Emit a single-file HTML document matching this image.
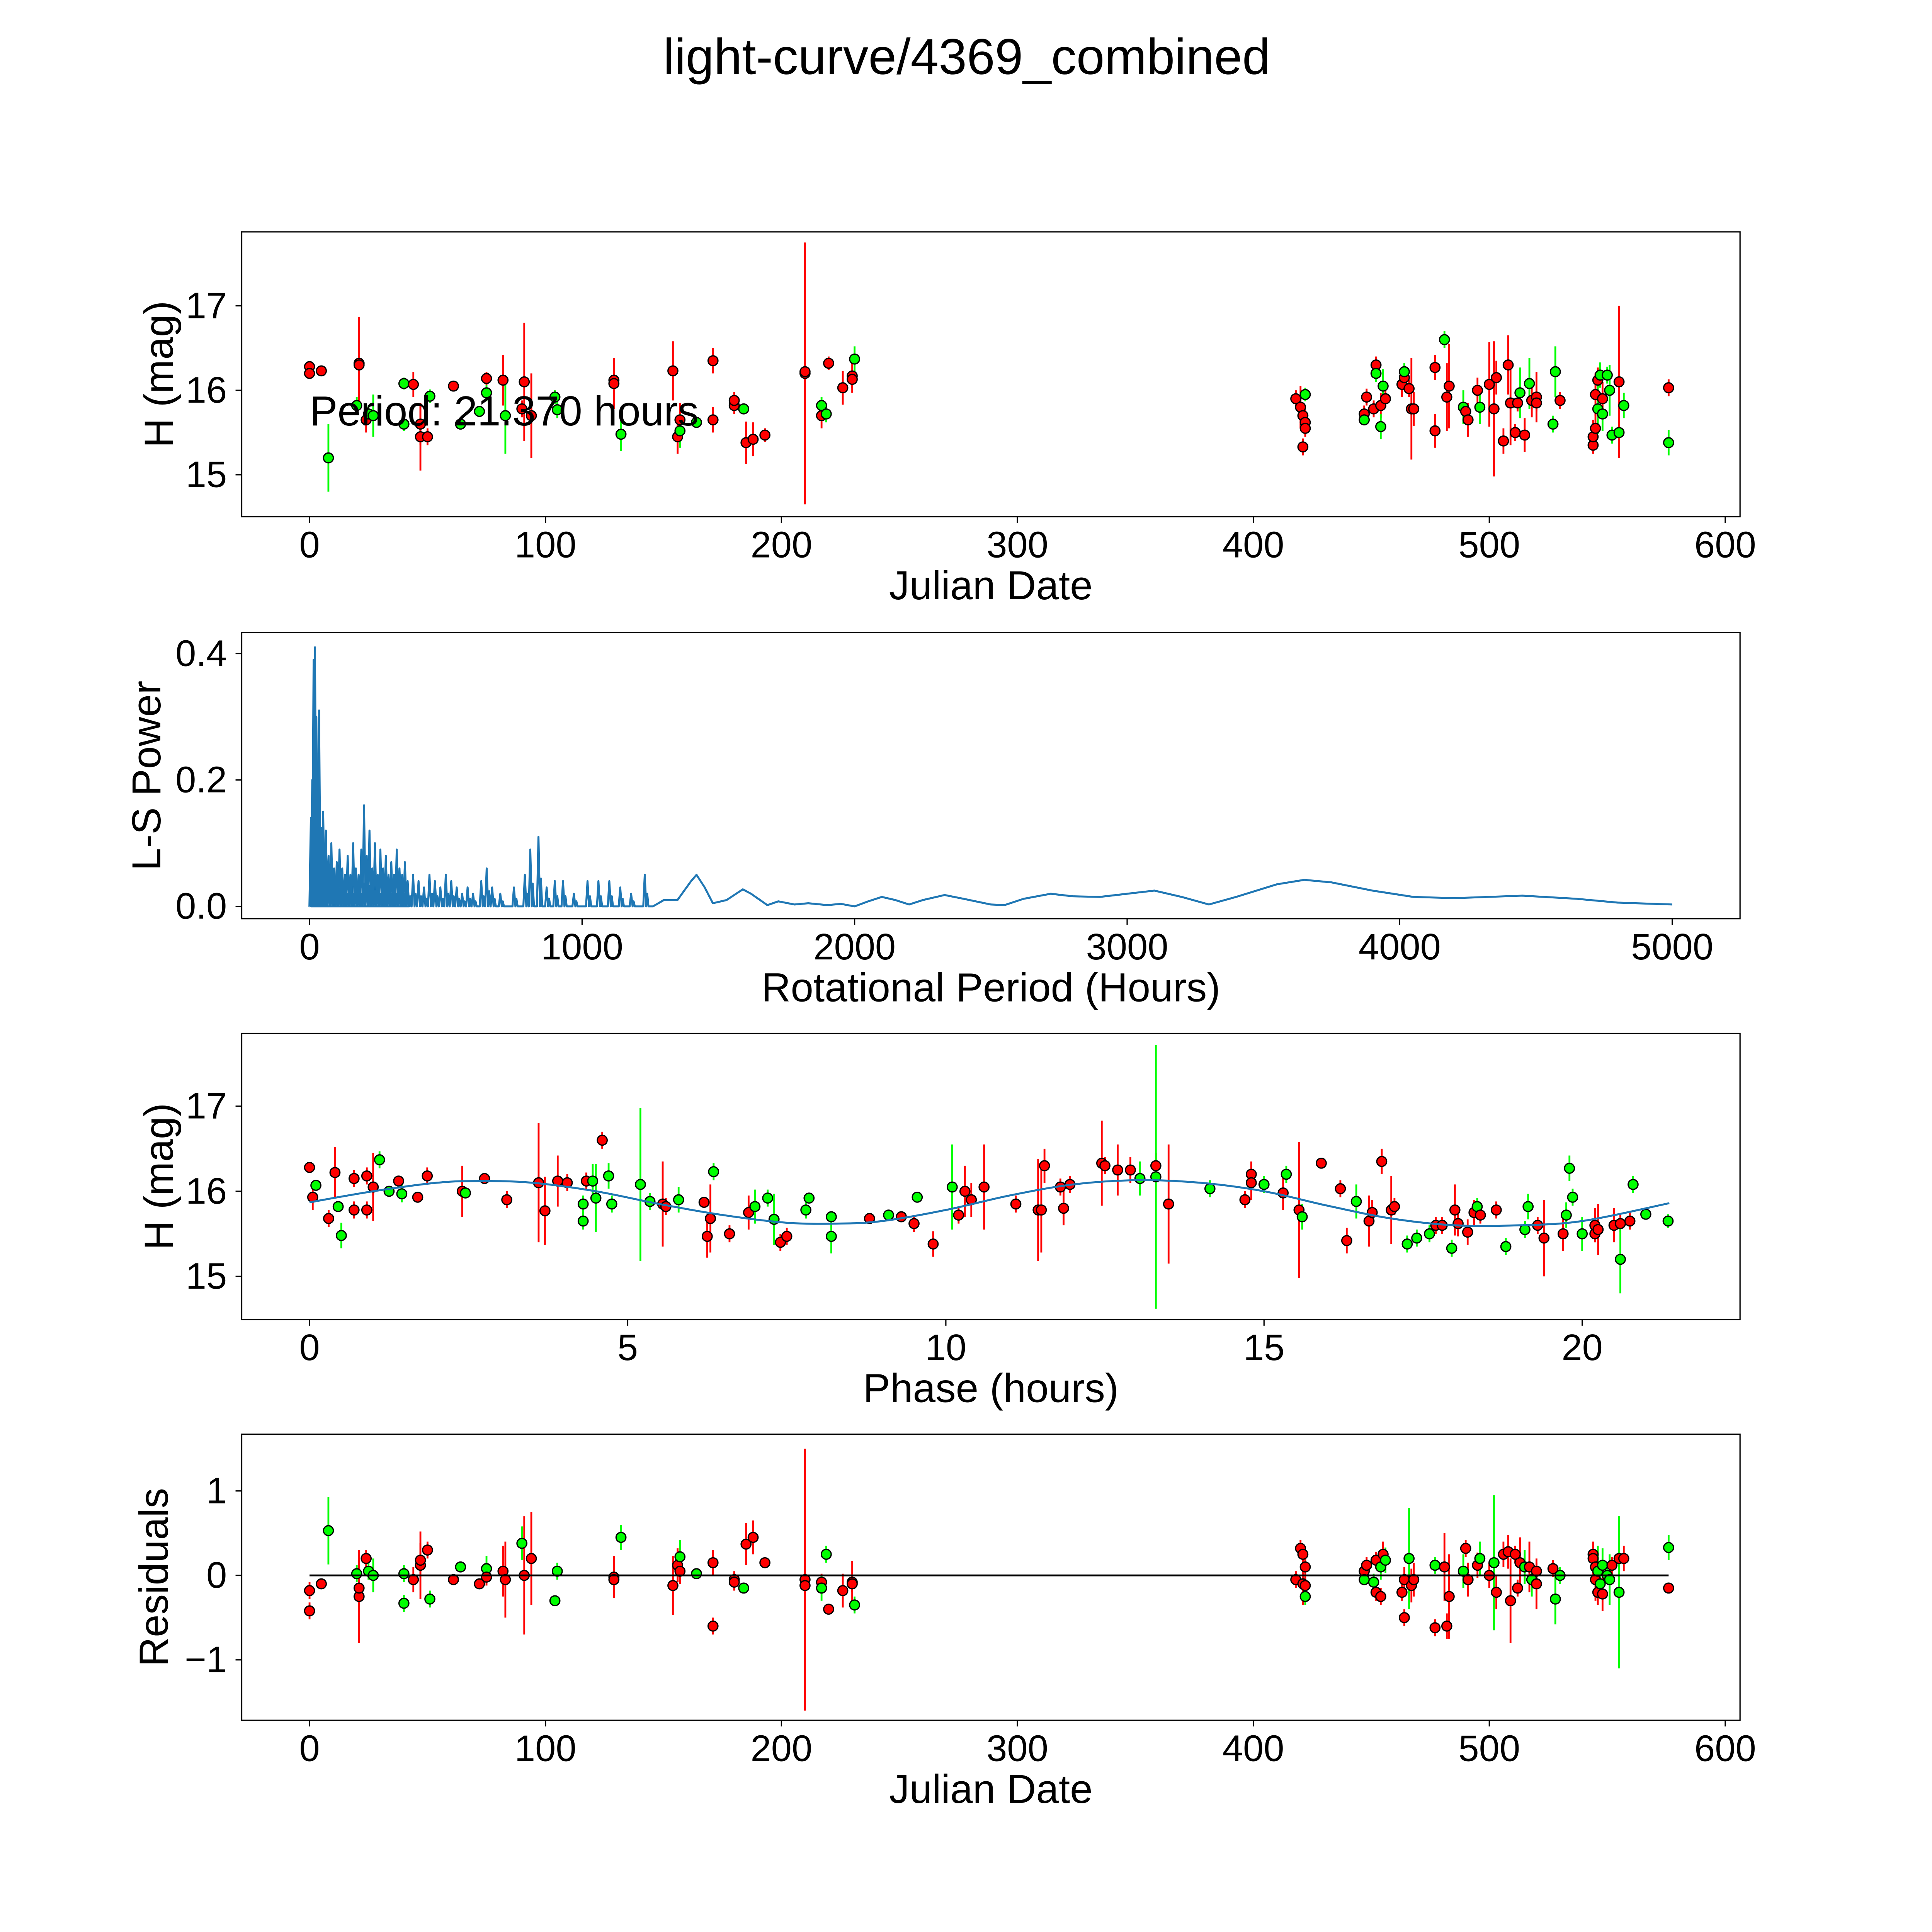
<!DOCTYPE html>
<html><head><meta charset="utf-8"><style>
html,body{margin:0;padding:0;background:#fff;overflow:hidden;width:5400px;height:5400px}
svg{display:block}
text{font-family:"Liberation Sans","DejaVu Sans",sans-serif;fill:#000}
</style></head><body>
<svg id="fig" width="5400" height="5400" viewBox="0 0 1692 1692" xmlns="http://www.w3.org/2000/svg">
<rect x="0" y="0" width="1692" height="1692" fill="#fff"/>
<text x="784" y="60" font-size="41" text-anchor="middle">light-curve/4369_combined</text>
</svg>
<script>
// ---- data ----
const lcDate=[0,0,5,8,20,21,21,24,25,27,40,40,44,47,47,50,51,61,64,72,75,75,82,83,90,91,94,104,105,129,129,132,154,156,157,157,164,171,171,180,180,184,185,188,193,210,210,217,217,219,220,226,230,230,231,418,420,421,421,422,422,422,447,447,448,451,452,452,454,454,455,456,463,464,464,466,467,468,477,477,481,482,483,489,490,491,495,496,500,502,503,506,508,509,511,512,513,515,517,518,520,520,527,528,530,544,544,545,545,546,546,547,548,548,550,551,552,555,555,557,576,576];
const lcMag=[16.28,16.2,16.23,15.2,15.82,16.32,16.3,15.65,15.72,15.7,16.08,15.6,16.07,15.6,15.45,15.45,15.93,16.05,15.6,15.75,15.97,16.14,16.12,15.7,15.78,16.1,15.7,15.92,15.77,16.12,16.08,15.48,16.23,15.45,15.65,15.52,15.62,16.35,15.65,15.82,15.88,15.78,15.38,15.42,15.47,16.2,16.22,15.82,15.7,15.72,16.32,16.03,16.17,16.13,16.37,15.9,15.8,15.7,15.33,15.95,15.62,15.55,15.72,15.65,15.92,15.78,16.3,16.2,15.82,15.57,16.05,15.9,16.07,16.15,16.22,16.02,15.78,15.78,15.52,16.27,16.6,15.92,16.05,15.8,15.75,15.65,16.0,15.8,16.07,15.78,16.15,15.4,16.3,15.85,15.5,15.85,15.97,15.47,16.08,15.88,15.92,15.85,15.6,16.22,15.88,15.35,15.45,15.55,15.95,16.12,15.78,16.18,15.72,15.9,16.18,16.0,15.47,15.5,16.1,15.82,16.03,15.38];
const lcErr=[0.05,0.05,0.05,0.4,0.1,0.55,0.1,0.15,0.1,0.25,0.07,0.08,0.15,0.25,0.4,0.1,0.08,0.05,0.05,0.05,0.1,0.08,0.3,0.45,0.1,0.7,0.5,0.08,0.1,0.07,0.3,0.2,0.35,0.2,0.2,0.2,0.05,0.15,0.15,0.1,0.1,0.05,0.25,0.2,0.08,1.55,0.1,0.1,0.15,0.1,0.08,0.2,0.2,0.1,0.15,0.1,0.25,0.1,0.1,0.08,0.15,0.1,0.1,0.05,0.1,0.1,0.1,0.1,0.15,0.15,0.2,0.1,0.15,0.15,0.1,0.1,0.6,0.2,0.2,0.15,0.1,0.4,0.5,0.2,0.1,0.2,0.15,0.2,0.5,0.8,0.2,0.15,0.35,0.5,0.1,0.1,0.3,0.2,0.3,0.2,0.3,0.1,0.1,0.3,0.1,0.1,0.2,0.2,0.25,0.15,0.3,0.15,0.2,0.2,0.1,0.3,0.1,0.3,0.9,0.15,0.1,0.15];
const lcBand="rrrggrrrggggrrrrgrgggrrgrrrggrrgrrrggrrrrgrrrrrgrgrrrrgrrrrgrrrgrrrgrggrrrgrrrrrgrrgrrrgrrrrrrrrgrgrrrggrrrrrrgggrggggrgrgrgr";
const phTime=[0,0.05,0.1,0.3,0.4,0.45,0.5,0.7,0.7,0.9,0.9,1.0,1.0,1.1,1.25,1.4,1.45,1.7,1.85,2.4,2.45,2.75,3.1,3.6,3.7,3.9,4.05,4.3,4.3,4.35,4.45,4.5,4.6,4.7,4.75,5.2,5.35,5.55,5.6,5.8,6.2,6.25,6.3,6.35,6.6,6.9,7.0,7.2,7.3,7.4,7.5,7.8,7.85,8.2,8.2,8.8,9.1,9.3,9.5,9.55,9.8,10.1,10.2,10.3,10.4,10.6,11.1,11.45,11.5,11.55,11.8,11.85,11.95,12.45,12.5,12.7,12.9,13.05,13.3,13.3,13.5,14.15,14.7,14.8,14.8,15.0,15.3,15.35,15.55,15.6,15.9,16.2,16.3,16.45,16.65,16.7,16.85,17.0,17.05,17.25,17.4,17.6,17.7,17.8,17.95,18.0,18.05,18.2,18.3,18.35,18.4,18.65,18.8,19.1,19.15,19.3,19.4,19.7,19.75,19.8,19.85,20.0,20.2,20.2,20.25,20.5,20.6,20.6,20.75,20.8,21.0,21.35];
const phMag=[16.28,15.93,16.07,15.68,16.22,15.82,15.48,15.78,16.15,15.78,16.18,16.05,16.05,16.37,16.0,16.12,15.97,15.93,16.18,16.0,15.98,16.15,15.9,16.1,15.77,16.12,16.1,15.65,15.85,16.12,16.12,15.92,16.6,16.18,15.85,16.08,15.88,15.85,15.82,15.9,15.87,15.47,15.68,16.23,15.5,15.75,15.82,15.92,15.67,15.4,15.47,15.78,15.92,15.47,15.7,15.68,15.72,15.7,15.62,15.93,15.38,16.05,15.72,16.0,15.9,16.05,15.85,15.78,15.78,16.3,16.05,15.8,16.08,16.33,16.3,16.25,16.25,16.15,16.3,16.17,15.85,16.03,15.9,16.2,16.1,16.08,15.98,16.2,15.78,15.7,16.33,16.03,15.42,15.88,15.65,15.75,16.35,15.78,15.82,15.38,15.45,15.5,15.6,15.6,15.33,15.78,15.62,15.52,15.75,15.82,15.72,15.78,15.35,15.55,15.82,15.6,15.45,15.5,15.72,16.27,15.93,15.5,15.6,15.5,15.55,15.6,15.62,15.2,15.65,16.08,15.73,15.65];
const phErr=[0.05,0.15,0.05,0.1,0.3,0.05,0.15,0.1,0.1,0.1,0.1,0.4,0.1,0.1,0.05,0.05,0.1,0.05,0.1,0.3,0.05,0.05,0.1,0.7,0.4,0.3,0.1,0.1,0.1,0.1,0.2,0.4,0.1,0.15,0.1,0.9,0.1,0.5,0.1,0.15,0.05,0.25,0.4,0.1,0.1,0.2,0.2,0.1,0.3,0.1,0.1,0.1,0.05,0.2,0.05,0.05,0.05,0.05,0.1,0.05,0.15,0.5,0.1,0.3,0.2,0.5,0.1,0.6,0.5,0.2,0.1,0.2,0.1,0.5,0.1,0.3,0.15,0.2,0.15,1.55,0.7,0.1,0.1,0.15,0.2,0.1,0.2,0.1,0.8,0.15,0.05,0.1,0.15,0.2,0.3,0.15,0.15,0.4,0.1,0.1,0.1,0.1,0.1,0.1,0.1,0.3,0.15,0.15,0.15,0.1,0.1,0.1,0.1,0.1,0.15,0.1,0.45,0.2,0.15,0.15,0.1,0.2,0.2,0.1,0.3,0.2,0.1,0.4,0.1,0.1,0.05,0.08];
const phBand="rrgrrggrrrrrrggrgrrrgrrrrrrggrggrggggrrgrrrgrrgggrrggggrgrrgrgrrrrrrrrrrrrrrrgrgrgrrrgrgrgrrrgrrrrrgggrrgrrrrgrrgggrrrggggrrrrrgrgggr";
const fitPhase=[0,1,2,2.7,3.5,4.5,5.5,6.5,7.5,8.3,9,10,11,12,13,14,15,16,17,18,19,20,21.37];
const fitMag=[15.87,16.0,16.1,16.12,16.1,16.0,15.85,15.72,15.63,15.62,15.65,15.78,15.95,16.08,16.13,16.1,16.0,15.83,15.68,15.6,15.6,15.65,15.86];
const resDate=[0,0,5,8,20,21,21,24,25,27,40,40,44,47,47,50,51,61,64,72,75,75,82,83,90,91,94,104,105,129,129,132,154,156,157,157,164,171,171,180,180,184,185,188,193,210,210,217,217,219,220,226,230,230,231,418,420,421,421,422,422,422,447,447,448,451,452,452,454,454,455,456,463,464,464,466,467,468,477,477,481,482,483,489,490,491,495,496,500,502,503,506,508,509,511,512,513,515,517,518,520,520,527,528,530,544,544,545,545,546,546,547,548,548,550,551,552,555,555,557,576,576];
const resVal=[-0.18,-0.42,-0.1,0.53,0.02,-0.25,-0.15,0.2,0.05,0,0.02,-0.33,-0.05,0.12,0.18,0.3,-0.28,-0.05,0.1,-0.1,0.08,-0.02,0.05,-0.05,0.38,0,0.2,-0.3,0.05,-0.02,-0.05,0.45,-0.12,0.12,0.22,0.05,0.02,-0.6,0.15,-0.05,-0.08,-0.15,0.37,0.45,0.15,-0.05,-0.12,-0.08,-0.15,0.25,-0.4,-0.18,-0.08,-0.1,-0.35,-0.05,0.32,0.25,-0.1,-0.25,0.1,-0.12,0.05,-0.05,0.12,-0.08,-0.2,0.18,-0.25,0.1,0.25,0.18,-0.2,-0.05,-0.5,0.2,-0.12,-0.05,-0.62,0.12,0.1,-0.6,-0.25,0.05,0.32,-0.05,0.12,0.2,0,0.15,-0.2,0.25,0.28,-0.3,0.25,-0.15,0.15,0.1,0.1,-0.05,-0.1,0.05,0.08,-0.28,0,0.25,0.2,0.1,-0.05,-0.2,0.05,-0.1,0.12,-0.22,0,-0.05,0.12,0.2,-0.2,0.2,0.33,-0.15];
const resErr=[0.1,0.1,0.05,0.4,0.1,0.55,0.1,0.1,0.1,0.2,0.1,0.1,0.15,0.4,0.2,0.1,0.1,0.05,0.05,0.05,0.15,0.1,0.3,0.45,0.2,0.7,0.55,0.05,0.1,0.25,0.1,0.15,0.35,0.2,0.2,0.15,0.05,0.1,0.15,0.1,0.1,0.05,0.25,0.2,0.05,1.55,0.1,0.1,0.15,0.1,0.05,0.2,0.25,0.1,0.1,0.1,0.1,0.1,0.25,0.1,0.15,0.1,0.1,0.05,0.1,0.1,0.1,0.1,0.1,0.15,0.15,0.15,0.1,0.15,0.1,0.6,0.2,0.2,0.1,0.1,0.4,0.15,0.5,0.2,0.1,0.2,0.15,0.2,0.15,0.8,0.2,0.15,0.2,0.5,0.1,0.1,0.3,0.2,0.3,0.2,0.3,0.1,0.1,0.3,0.1,0.1,0.2,0.2,0.25,0.15,0.3,0.15,0.2,0.2,0.1,0.3,0.1,0.3,0.9,0.15,0.15,0.05];
const resBand="rrrggrrrggggrrrrgrgrgrrrgrrggrrgrrgrgrrrrgrrrrrrggrrrrgrrrrgrrrgrgrrrgrgrrrgrrrgrrrgrrrgrgrrrrrrrgrgrrrggrrrrrgggrggrrgrgrrgrrg";
const lsPeakPeriod=[5,10,15,20,25,30,35,40,45,50,60,70,80,90,100,110,120,130,140,150,160,170,180,190,200,210,220,230,240,250,260,270,280,290,300,310,320,330,340,350,360,380,400,420,440,460,480,500,520,540,560,580,600,630,650,670,700,750,790,810,840,870,900,930,970,1020,1060,1100,1140,1180,1230];
const lsPeakPower=[0.14,0.2,0.39,0.41,0.3,0.12,0.31,0.1,0.09,0.15,0.12,0.08,0.1,0.06,0.07,0.09,0.06,0.05,0.08,0.05,0.1,0.06,0.05,0.09,0.16,0.08,0.12,0.06,0.1,0.05,0.09,0.06,0.08,0.05,0.07,0.05,0.09,0.06,0.05,0.07,0.04,0.05,0.04,0.03,0.05,0.04,0.03,0.05,0.04,0.03,0.02,0.03,0.02,0.04,0.06,0.03,0.02,0.03,0.05,0.09,0.11,0.03,0.04,0.04,0.02,0.04,0.04,0.04,0.03,0.02,0.05];
const lsSmoothPeriod=[1260,1300,1350,1400,1420,1450,1480,1530,1590,1620,1680,1720,1780,1830,1900,1950,2000,2050,2100,2150,2200,2250,2330,2400,2500,2550,2620,2720,2800,2900,3000,3100,3200,3300,3400,3550,3650,3750,3900,4050,4200,4450,4650,4800,5000];
const lsSmoothPower=[0.0,0.01,0.01,0.04,0.05,0.03,0.005,0.01,0.027,0.02,0.002,0.008,0.003,0.005,0.002,0.004,0.0,0.008,0.015,0.01,0.003,0.01,0.018,0.012,0.003,0.002,0.012,0.02,0.016,0.015,0.02,0.025,0.015,0.003,0.015,0.035,0.042,0.038,0.025,0.015,0.013,0.017,0.012,0.006,0.003];
const jdTicks=[0,100,200,300,400,500,600];
const magTicks=[15,16,17];
const lsXTicks=[0,1000,2000,3000,4000,5000];
const lsYTicks=[0.0,0.2,0.4];
const lsYLabels=["0.0","0.2","0.4"];
const phTicks=[0,5,10,15,20];
const resTicks=[-1,0,1];
const resLabels=["\u22121","0","1"];

// ---- drawing ----
const NS="http://www.w3.org/2000/svg";
const fig=document.getElementById('fig');
function el(tag,attrs,parent){const e=document.createElementNS(NS,tag);for(const k in attrs)e.setAttribute(k,attrs[k]);(parent||fig).appendChild(e);return e;}
function lin(d0,d1,p0,p1){return v=>p0+(v-d0)*(p1-p0)/(d1-d0);}
const L=196,R=1411;
function axes(name,top,bot,xs,ys,xt,xl,yt,yl,xlabel,ylabel,ylx){
  const g=el('g',{});
  
  
  const clip=el('clipPath',{id:'clip-'+name},g);
  el('rect',{x:L,y:top,width:R-L,height:bot-top},clip);
  xt.forEach((t,i)=>{const x=xs(t);
    const tk=el('line',{x1:x,x2:x,y1:bot,y2:bot+5,stroke:'#000','stroke-width':1},g);
    
    const tx=el('text',{x:x,y:bot+33,'font-size':30,'text-anchor':'middle'},g);tx.textContent=xl[i];
    });
  yt.forEach((t,i)=>{const y=ys(t);
    const tk=el('line',{x1:L-5,x2:L,y1:y,y2:y,stroke:'#000','stroke-width':1},g);
    
    const tx=el('text',{x:L-12,y:y+10,'font-size':30,'text-anchor':'end'},g);tx.textContent=yl[i];
    });
  const xa=el('text',{x:(L+R)/2,y:bot+67,'font-size':33,'text-anchor':'middle'},g);xa.textContent=xlabel;
  
  const cy=(top+bot)/2;
  const ya=el('text',{x:0,y:0,'font-size':33,'text-anchor':'middle',transform:`translate(${ylx},${cy}) rotate(-90)`},g);ya.textContent=ylabel;
  
  const plot=el('g',{'clip-path':`url(#clip-${name})`},g);
  
  return {g,plot,frame:()=>{const f=el('rect',{x:L,y:top,width:R-L,height:bot-top,fill:'none',stroke:'#000','stroke-width':1},g);
    }};
}
function points(plot,xs,ys,X,Y,E,B){
  for(let i=0;i<X.length;i++){const c=B[i]==='r'?'#ff0000':'#00ff00';
    const x=xs(X[i]);
    const eb=el('line',{x1:x,x2:x,y1:ys(Y[i]-E[i]),y2:ys(Y[i]+E[i]),stroke:c,'stroke-width':1.5},plot);
    }
  for(let i=0;i<X.length;i++){const c=B[i]==='r'?'#ff0000':'#00ff00';
    const p=el('circle',{cx:xs(X[i]),cy:ys(Y[i]),r:4,fill:c,stroke:'#000','stroke-width':1},plot);
    }
}
// Panel 1
{const xs=lin(0,600,251,1399),ys=lin(15,17,385,248);
 const a=axes('light-curve-panel',188,419,xs,ys,jdTicks,jdTicks.map(String),magTicks,magTicks.map(String),'Julian Date','H (mag)',140);
 points(a.plot,xs,ys,lcDate,lcMag,lcErr,lcBand);
 const t=el('text',{x:251,y:345,'font-size':34},a.g);t.textContent='Period: 21.370 hours';
 
 a.frame();}
// Panel 2
{const xs=lin(0,5000,251,1356),ys=lin(0,0.4,735,530);
 const a=axes('periodogram-panel',513,745,xs,ys,lsXTicks,lsXTicks.map(String),lsYTicks,lsYLabels,'Rotational Period (Hours)','L-S Power',130);
 let d=`M${xs(0)},${ys(0)}`;
 for(let i=0;i<lsPeakPeriod.length;i++){const p=lsPeakPeriod[i];
   d+=` L${xs(p)-1.2},${ys(0)} L${xs(p)},${ys(lsPeakPower[i])} L${xs(p)+1.2},${ys(0)}`;
   d+=` L${xs(p)+2},${ys(lsPeakPower[i]*0.4)} L${xs(p)+3},${ys(0)}`;}
 for(let i=0;i<lsSmoothPeriod.length;i++){d+=` L${xs(lsSmoothPeriod[i])},${ys(lsSmoothPower[i])}`;}
 const ln=el('path',{d:d,fill:'none',stroke:'#1f77b4','stroke-width':1.6,'stroke-linejoin':'round'},a.plot);
 
 a.frame();}
// Panel 3
{const xs=lin(0,20,251,1283),ys=lin(15,17,1035,897);
 const a=axes('phase-panel',838,1070,xs,ys,phTicks,phTicks.map(String),magTicks,magTicks.map(String),'Phase (hours)','H (mag)',140);
 let d=`M${xs(fitPhase[0])},${ys(fitMag[0])}`;
 const P=fitPhase.map((v,i)=>[xs(v),ys(fitMag[i])]);
 for(let i=0;i<P.length-1;i++){const p0=P[Math.max(0,i-1)],p1=P[i],p2=P[i+1],p3=P[Math.min(P.length-1,i+2)];
   d+=` C${p1[0]+(p2[0]-p0[0])/6},${p1[1]+(p2[1]-p0[1])/6} ${p2[0]-(p3[0]-p1[0])/6},${p2[1]-(p3[1]-p1[1])/6} ${p2[0]},${p2[1]}`;}
 points(a.plot,xs,ys,phTime,phMag,phErr,phBand);
 const ln=el('path',{d:d,fill:'none',stroke:'#1f77b4','stroke-width':1.6},a.plot);
 
 a.frame();}
// Panel 4
{const xs=lin(0,600,251,1399),ys=lin(-1,1,1346,1209);
 const a=axes('residuals-panel',1163,1395,xs,ys,jdTicks,jdTicks.map(String),resTicks,resLabels,'Julian Date','Residuals',136);
 points(a.plot,xs,ys,resDate,resVal,resErr,resBand);
 const z=el('line',{x1:xs(0),x2:xs(576),y1:ys(0),y2:ys(0),stroke:'#000','stroke-width':1.5},a.plot);
 
 a.frame();}
</script>
</body></html>
